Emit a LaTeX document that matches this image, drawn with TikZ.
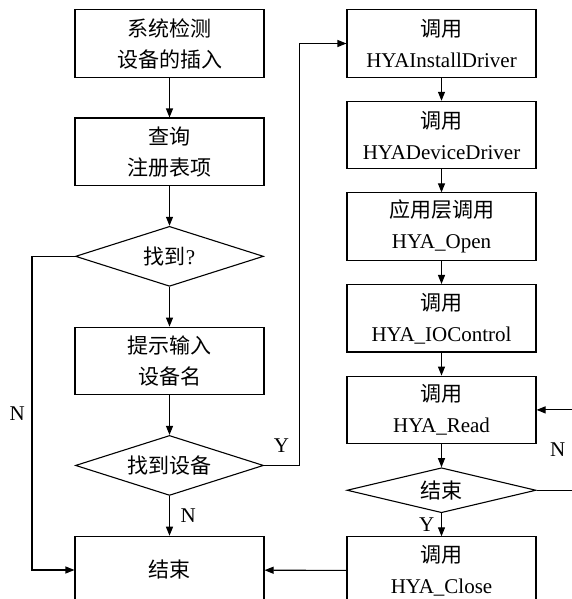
\documentclass[tikz,border=0pt]{standalone}
\usepackage{fontspec}
\setmainfont{Liberation Serif}
\newfontfamily\cjk{Noto Sans CJK SC}
\usetikzlibrary{arrows.meta}
\usetikzlibrary{shapes.geometric}
\usetikzlibrary{positioning}

\begin{document}
\begin{tikzpicture}[->,>={Triangle[length=4.5pt,width=3.5pt]},line width=0.55pt,
  node distance=19.85pt,font=\fontsize{10.5}{15.5}\selectfont,
  box/.style={draw,rectangle,minimum width=94.5pt,minimum height=33.75pt,inner sep=0pt,align=center},
  test/.style={draw,diamond,minimum width=94pt,minimum height=30pt,shape aspect=3.1,inner sep=0pt,align=center}]
  \useasboundingbox (0,0) rectangle (286pt,299.5pt);
  % left column
  \node[box] (detect) at (84.75pt,277.75pt) {{\cjk 系统检测}\\{\cjk 设备的插入}};
  \node[box] (query) [below=of detect] {{\cjk 查询}\\{\cjk 注册表项}};
  \node[test] (found) [below=of query] {{\cjk 找到}?};
  \node[box] (prompt) [below=of found] {{\cjk 提示输入}\\{\cjk 设备名}};
  \node[test] (finddev) [below=of prompt] {\cjk 找到设备};
  \node[box] (stop) [below=of finddev] {\cjk 结束};

  % right column
  \begin{scope}[node distance=11.5pt]
  \node[box] (install) at (220.75pt,277.75pt) {{\cjk 调用}\\HYAInstallDriver};
  \node[box] (device) [below=of install] {{\cjk 调用}\\HYADeviceDriver};
  \node[box] (open) [below=of device] {{\cjk 应用层调用}\\HYA\_Open};
  \node[box] (ioctl) [below=of open] {{\cjk 调用}\\HYA\_IOControl};
  \node[box] (read) [below=of ioctl] {{\cjk 调用}\\HYA\_Read};
  \node[test,minimum width=94.5pt,minimum height=22.5pt,shape aspect=4.2] (done) [below=of read] {\cjk 结束};
  \node[box] (close) [below=of done] {{\cjk 调用}\\HYA\_Close};
  \end{scope}

  \path (detect) edge (query)
        (query) edge (found)
        (found) edge (prompt)
        (prompt) edge (finddev)
        (finddev) edge node[right,xshift=2pt] {N} (stop)
        (install) edge (device)
        (device) edge (open)
        (open) edge (ioctl)
        (ioctl) edge (read)
        (read) edge (done)
        (done) edge node[left] {Y} (close)
        (close) edge (stop);

  \draw (found.west) -- ++(-21.5pt,0) |- node[pos=0.25,left] {N} (stop.west);
  \draw (finddev.east) -- node[above,yshift=3pt] {Y} ++(17.5pt,0) |- (install.west);
  \draw (done.east) -- ++(18pt,0) |- node[pos=0.25,left] {N} (read.east);
\end{tikzpicture}
\end{document}
